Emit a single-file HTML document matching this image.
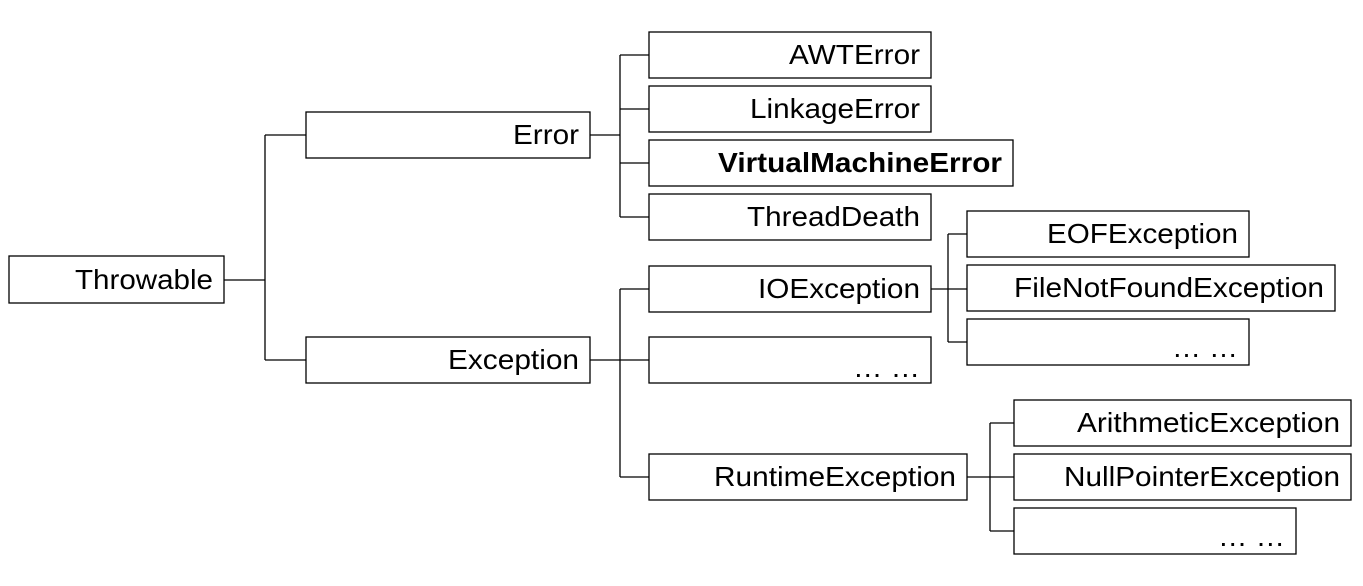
<!DOCTYPE html>
<html><head><meta charset="utf-8"><style>
html,body{margin:0;padding:0;background:#fff;}
svg{display:block;}
text{font-family:"Liberation Sans",Arial,sans-serif;font-size:28px;fill:#000;}
rect{fill:#fff;stroke:#000;stroke-width:1.3;}
line{stroke:#000;stroke-width:1.3;}
</style></head><body>
<svg width="1363" height="586" viewBox="0 0 1363 586">
<line x1="224" y1="280" x2="265" y2="280"/>
<line x1="265" y1="135" x2="265" y2="360"/>
<line x1="265" y1="135" x2="306" y2="135"/>
<line x1="265" y1="360" x2="306" y2="360"/>
<line x1="590" y1="135" x2="620" y2="135"/>
<line x1="620" y1="55" x2="620" y2="217"/>
<line x1="620" y1="55" x2="649" y2="55"/>
<line x1="620" y1="109" x2="649" y2="109"/>
<line x1="620" y1="163" x2="649" y2="163"/>
<line x1="620" y1="217" x2="649" y2="217"/>
<line x1="590" y1="360" x2="649" y2="360"/>
<line x1="620" y1="289" x2="620" y2="477"/>
<line x1="620" y1="289" x2="649" y2="289"/>
<line x1="620" y1="477" x2="649" y2="477"/>
<line x1="931" y1="289" x2="967" y2="289"/>
<line x1="948" y1="234" x2="948" y2="342"/>
<line x1="948" y1="234" x2="967" y2="234"/>
<line x1="948" y1="342" x2="967" y2="342"/>
<line x1="967" y1="477" x2="1014" y2="477"/>
<line x1="990" y1="423" x2="990" y2="531"/>
<line x1="990" y1="423" x2="1014" y2="423"/>
<line x1="990" y1="531" x2="1014" y2="531"/>
<rect x="9" y="256" width="215" height="47"/><text x="75" y="289" textLength="138" lengthAdjust="spacingAndGlyphs">Throwable</text>
<rect x="306" y="112" width="284" height="46"/><text x="513" y="144" textLength="66" lengthAdjust="spacingAndGlyphs">Error</text>
<rect x="306" y="337" width="284" height="46"/><text x="448" y="369" textLength="131" lengthAdjust="spacingAndGlyphs">Exception</text>
<rect x="649" y="32" width="282" height="46"/><text x="789" y="64" textLength="131" lengthAdjust="spacingAndGlyphs">AWTError</text>
<rect x="649" y="86" width="282" height="46"/><text x="750" y="118" textLength="170" lengthAdjust="spacingAndGlyphs">LinkageError</text>
<rect x="649" y="140" width="364" height="46"/><text x="718" y="172" font-weight="bold" textLength="284" lengthAdjust="spacingAndGlyphs">VirtualMachineError</text>
<rect x="649" y="194" width="282" height="46"/><text x="747" y="226" textLength="173" lengthAdjust="spacingAndGlyphs">ThreadDeath</text>
<rect x="649" y="266" width="282" height="46"/><text x="758" y="298" textLength="162" lengthAdjust="spacingAndGlyphs">IOException</text>
<rect x="649" y="337" width="282" height="46"/><text x="853" y="377" textLength="67" lengthAdjust="spacingAndGlyphs">… …</text>
<rect x="649" y="454" width="318" height="46"/><text x="714" y="486" textLength="242" lengthAdjust="spacingAndGlyphs">RuntimeException</text>
<rect x="967" y="211" width="282" height="46"/><text x="1047" y="243" textLength="191" lengthAdjust="spacingAndGlyphs">EOFException</text>
<rect x="967" y="265" width="368" height="46"/><text x="1014" y="297" textLength="310" lengthAdjust="spacingAndGlyphs">FileNotFoundException</text>
<rect x="967" y="319" width="282" height="46"/><text x="1172" y="357" textLength="66" lengthAdjust="spacingAndGlyphs">… …</text>
<rect x="1014" y="400" width="337" height="46"/><text x="1077" y="432" textLength="263" lengthAdjust="spacingAndGlyphs">ArithmeticException</text>
<rect x="1014" y="454" width="337" height="46"/><text x="1064" y="486" textLength="276" lengthAdjust="spacingAndGlyphs">NullPointerException</text>
<rect x="1014" y="508" width="282" height="46"/><text x="1218" y="546" textLength="67" lengthAdjust="spacingAndGlyphs">… …</text>
</svg>
</body></html>
